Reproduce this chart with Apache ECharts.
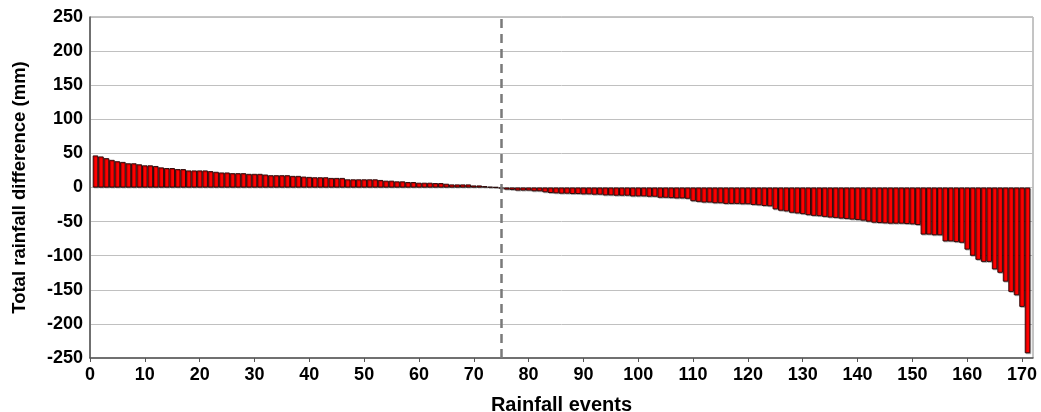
<!DOCTYPE html>
<html>
<head>
<meta charset="utf-8">
<script src="https://cdn.jsdelivr.net/npm/echarts@6/dist/echarts.min.js"></script>
<style>
  html, body { margin: 0; padding: 0; background: #fff; }
  #chart { width: 1041px; height: 412px; }
</style>
</head>
<body>
<div id="chart"></div>
<script>
// rainfall difference per event (mm), event 1..171
const eventDiff = [
  47, 45.5, 43, 40.5, 38.5, 37.5, 35.5, 35.5, 34, 32.5,
  32.5, 31.5, 29.5, 28.5, 28.5, 27, 27, 25, 25, 25,
  25, 24, 23, 22, 22, 21, 21, 21, 20, 20,
  20, 19, 18, 18, 18, 18, 17, 17, 16, 15.5,
  15, 15, 15, 14, 14, 14, 12, 12, 12, 12,
  12, 12, 11, 10, 10, 9, 9, 8, 8, 7,
  7, 7, 6.5, 6.5, 5.5, 4.5, 4.5, 4.5, 4.5, 3,
  3, 2, 1, 0.5, -1.5, -3, -3.5, -4.5, -4.5, -4.5,
  -5.5, -5.5, -7, -8, -8.5, -9, -9, -9.5, -9.5, -10,
  -10, -10.5, -10.5, -11.5, -11.5, -12, -12, -12, -13, -13,
  -13, -13.5, -13.5, -15, -15, -15.5, -16, -16, -16.5, -20,
  -21, -22, -22, -23, -23, -24, -24, -24, -24.5, -24.5,
  -25.5, -26, -27, -27.5, -32, -34, -35, -37, -38, -39,
  -40.5, -41.5, -42, -43, -44, -44.5, -45.5, -46, -47, -47.5,
  -48.5, -50, -51.5, -52, -52.5, -53, -53, -53, -53.5, -54,
  -55, -69, -69, -70, -70, -79, -79, -80, -81, -91,
  -100, -106, -109, -109, -120, -125, -138, -153, -158, -175,
  -243
];
const splitEvent = 75;

const chart = echarts.init(document.getElementById('chart'));
const font = 'Liberation Sans, Arial, sans-serif';

chart.setOption({
  animation: false,
  grid: {
    left: 90, right: 8, top: 17, bottom: 54,
    outerBoundsMode: 'none',
    containLabel: false,
    show: true, borderColor: '#8a8a8a', borderWidth: 1
  },
  xAxis: {
    type: 'value',
    min: 0, max: 172, interval: 10,
    name: 'Rainfall events',
    nameLocation: 'middle',
    nameGap: 37,
    nameTextStyle: { fontFamily: font, fontWeight: 'bold', fontSize: 20, color: '#000' },
    axisLine: { onZero: false, lineStyle: { color: '#555', width: 1.5 } },
    axisTick: { show: true, length: 4, lineStyle: { color: '#555' } },
    axisLabel: {
      fontFamily: font, fontWeight: 'bold', fontSize: 18, color: '#000',
      margin: 8, showMaxLabel: false,
      formatter: v => (v % 10 === 0 ? String(v) : '')
    },
    splitLine: { show: false }
  },
  yAxis: {
    type: 'value',
    min: -250, max: 250, interval: 50,
    name: 'Total rainfall difference (mm)',
    nameLocation: 'middle',
    nameGap: 61,
    nameTextStyle: { fontFamily: font, fontWeight: 'bold', fontSize: 18.5, color: '#000' },
    axisLine: { show: true, lineStyle: { color: '#555', width: 1.5 } },
    axisTick: { show: false },
    axisLabel: { fontFamily: font, fontWeight: 'bold', fontSize: 18, color: '#000', margin: 7 },
    splitLine: { show: true, lineStyle: { color: '#c0c0c0', width: 1 } }
  },
  series: [{
    type: 'bar',
    data: eventDiff.map((v, i) => [i + 1, v]),
    barWidth: 5.5,
    itemStyle: {
      color: '#ff0000',
      borderColor: '#200000',
      borderWidth: 0.9,
      shadowColor: 'rgba(0,0,0,0.25)',
      shadowOffsetX: 1,
      shadowOffsetY: 1
    },
    markLine: {
      symbol: 'none',
      silent: true,
      label: { show: false },
      lineStyle: { color: '#7a7a7a', type: [9, 6], width: 2.5 },
      data: [{ xAxis: splitEvent }]
    }
  }]
});
</script>
</body>
</html>
